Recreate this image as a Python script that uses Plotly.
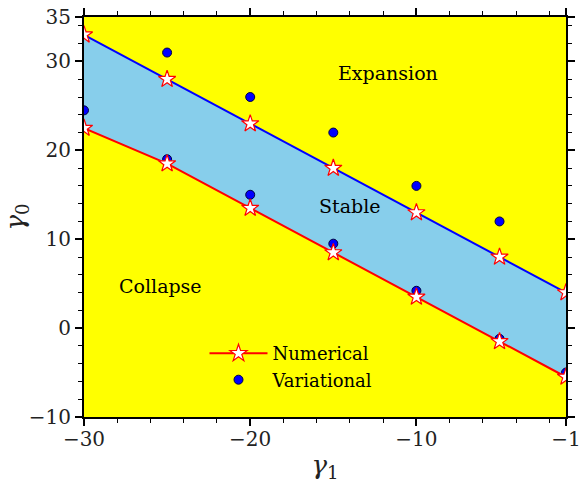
import plotly.graph_objects as go

# ---- data ----
gamma1_num = [-30, -25, -20, -15, -10, -5, -1]
upper_num = [33, 28, 23, 18, 13, 8, 4]
lower_num = [22.5, 18.5, 13.5, 8.5, 3.5, -1.5, -5.5]

gamma1_var_up = [-25, -20, -15, -10, -5]
upper_var = [31, 26, 22, 16, 12]
gamma1_var_low = [-30, -25, -20, -15, -10, -5, -1]
lower_var = [24.5, 19, 15, 9.5, 4.2, -1.2, -5]

x_ticks = [-30, -20, -10, -1]
y_ticks = [-10, 0, 10, 20, 30, 35]

region_labels = ["Expansion", "Stable", "Collapse"]
region_x = [-11.7, -14.0, -25.4]
region_y = [28.7, 13.7, 4.7]

SERIF = "DejaVu Serif"

fig = go.Figure()

# stable band (polygon between the two numerical curves)
fig.add_trace(go.Scatter(
    x=gamma1_num + gamma1_num[::-1],
    y=upper_num + lower_num[::-1],
    fill="toself", fillcolor="#87CEEB", mode="none",
    showlegend=False, hoverinfo="skip"))

star = dict(symbol="star", size=13, color="white", line=dict(color="red", width=1.2))

# variational points
fig.add_trace(go.Scatter(
    x=gamma1_var_low + gamma1_var_up, y=lower_var + upper_var, mode="markers",
    marker=dict(symbol="circle", size=9, color="blue", line=dict(color="#000040", width=1)),
    name="Variational", legendrank=2))

# numerical curves
fig.add_trace(go.Scatter(
    x=gamma1_num, y=lower_num, mode="lines+markers",
    line=dict(color="red", width=2), marker=star,
    name="Numerical", legendrank=1))
fig.add_trace(go.Scatter(
    x=gamma1_num, y=upper_num, mode="lines+markers",
    line=dict(color="blue", width=2), marker=star,
    showlegend=False))

for t, xx, yy in zip(region_labels, region_x, region_y):
    fig.add_annotation(x=xx, y=yy, text=t, showarrow=False,
                       font=dict(family=SERIF, size=19, color="black"))

axis_common = dict(
    showline=True, linecolor="black", linewidth=2, mirror="allticks",
    ticks="outside", ticklen=7, tickwidth=1.5, tickcolor="black",
    showgrid=False, zeroline=False, automargin=False,
    ticklabeloverflow="allow",
    tickfont=dict(family=SERIF, size=20, color="#222"),
)

fig.update_xaxes(
    range=[-30, -1], tickvals=x_ticks, ticklabelstandoff=-4,
    minor=dict(dtick=2, tick0=-30, ticks="outside", ticklen=4, tickwidth=1.2, tickcolor="black", showgrid=False),
    title=dict(text="<i>γ</i><sub>1</sub>", font=dict(family=SERIF, size=26, color="#222"), standoff=10),
    **axis_common)
fig.update_yaxes(
    range=[-10, 35], tickvals=y_ticks,
    minor=dict(dtick=2, tick0=-10, ticks="outside", ticklen=4, tickwidth=1.2, tickcolor="black", showgrid=False),
    title=dict(text="<i>γ</i><sub>0</sub>", font=dict(family=SERIF, size=26, color="#222"), standoff=6),
    **axis_common)

fig.update_layout(
    width=579, height=483,
    margin=dict(l=84, r=13, t=17, b=66),
    plot_bgcolor="#FFFF00", paper_bgcolor="white",
    legend=dict(x=0.25, y=0.126, xanchor="left", yanchor="middle",
                bgcolor="rgba(0,0,0,0)", font=dict(family=SERIF, size=18, color="black"),
                itemwidth=58, tracegroupgap=4),
)

fig.write_html("out.html")
